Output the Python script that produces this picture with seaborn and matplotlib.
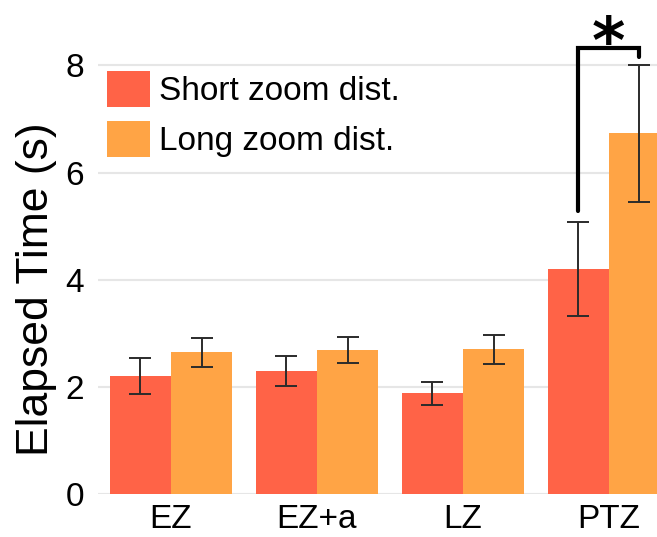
import numpy as np
import pandas as pd
import seaborn as sns
import matplotlib.pyplot as plt

categories = ["EZ", "EZ+a", "LZ", "PTZ"]
series = ["Short zoom dist.", "Long zoom dist."]
short_mean = [2.20, 2.30, 1.88, 4.20]
short_err = [0.33, 0.28, 0.22, 0.88]
long_mean = [2.65, 2.69, 2.70, 6.73]
long_err = [0.27, 0.25, 0.27, 1.28]

colors = ["#ff6347", "#ffa445"]

df = pd.DataFrame(
    {
        "condition": categories * 2,
        "series": [series[0]] * 4 + [series[1]] * 4,
        "time": short_mean + long_mean,
    }
)

sns.set_style("white")
plt.rcParams["font.family"] = ["Liberation Sans", "DejaVu Sans"]
plt.rcParams["text.color"] = "black"
plt.rcParams["xtick.color"] = "black"
plt.rcParams["ytick.color"] = "black"
plt.rcParams["axes.labelcolor"] = "black"

fig = plt.figure(figsize=(6.57, 5.37), dpi=100)
ax = fig.add_axes([0.149, 0.080, 0.851, 0.920])

sns.barplot(
    data=df,
    x="condition",
    y="time",
    hue="series",
    palette=colors,
    width=0.84,
    gap=0,
    errorbar=None,
    saturation=1,
    linewidth=0,
    ax=ax,
)

# error bars drawn on bar centres
for cont, errs in zip(ax.containers, [short_err, long_err]):
    xs = [p.get_x() + p.get_width() / 2 for p in cont.patches]
    ys = [p.get_height() for p in cont.patches]
    ax.errorbar(xs, ys, yerr=errs, fmt="none", ecolor="#2b2b2b",
                elinewidth=1.4, capsize=8, capthick=1.4, zorder=5)

# significance bracket on PTZ
px = [p.get_x() + p.get_width() / 2 for p in ax.containers[0].patches][3]
qx = [p.get_x() + p.get_width() / 2 for p in ax.containers[1].patches][3]
ax.plot([px, px, qx, qx], [5.29, 8.33, 8.33, 8.16], color="black",
        lw=3, clip_on=False, zorder=6, solid_joinstyle="miter")
ax.text((px + qx) / 2, 8.05, "*", ha="center", va="baseline", fontsize=46,
        fontweight="bold", family="DejaVu Sans", clip_on=False)

ax.set_xlim(-0.5, 3.33)
ax.set_ylim(0, 9.22)
ax.set_yticks([0, 2, 4, 6, 8])
ax.yaxis.grid(True, color="#e6e6e6", lw=1.5)
ax.set_axisbelow(True)
sns.despine(ax=ax, left=True, bottom=True, top=True, right=True)
ax.tick_params(axis="y", labelsize=24, pad=10, length=0)
ax.tick_params(axis="x", labelsize=24, pad=7, length=0)
ax.set_xlabel("")
ax.set_ylabel("Elapsed Time (s)", fontsize=32)
ax.yaxis.set_label_coords(-0.073, 0.415)

ax.legend(loc="upper left", bbox_to_anchor=(0.016, 0.856), frameon=False,
          fontsize=24, handlelength=1.3, handleheight=1.3, handletextpad=0.25,
          labelspacing=0.4, borderaxespad=0, borderpad=0)

fig.savefig("out.png", dpi=100)
